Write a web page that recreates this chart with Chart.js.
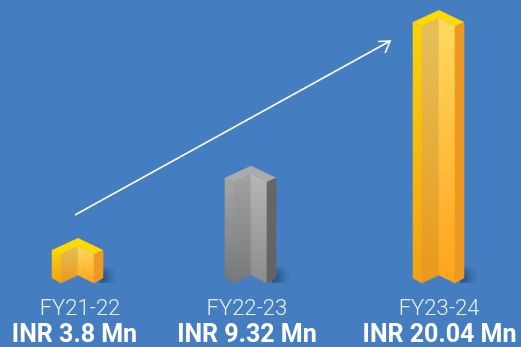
<!DOCTYPE html>
<html>
<head>
<meta charset="utf-8">
<style>
  html, body { margin: 0; padding: 0; background: #457ec0; }
  canvas { display: block; }
</style>
<script src="https://cdn.jsdelivr.net/npm/chart.js@4"></script>
</head>
<body>
<canvas id="revenue" width="521" height="347"></canvas>
<script>
const periods = ['FY21-22', 'FY22-23', 'FY23-24'];
const amounts = ['3.8', '9.32', '20.04'];
// bar levels as drawn in the picture, the artwork is not quite to scale
const drawnLevels = [3.3, 8.6, 20.04];
const slots = [0, 0.958, 2];
const arrowX = [-0.017, 1.729];
const arrowY = [4.99, 17.76];

const gold = {
  cap: '#ffd900',
  left: ['#fbd208', '#f3a014'],
  innerLeft: ['#e4c05a', '#ea981c'],
  innerRight: ['#ffd960', '#ffa41c'],
  right: ['#ee9a22', '#ee9a22']
};
const grey = {
  cap: '#ababad',
  left: ['#a6a6a6', '#747678'],
  innerLeft: ['#a2a2a2', '#76787a'],
  innerRight: ['#b6b6b8', '#8c8c8e'],
  right: ['#666666', '#636363']
};
const palettes = [gold, grey, gold];

function face(ctx, pts, colors) {
  const ys = pts.map(p => p[1]);
  const grad = ctx.createLinearGradient(0, Math.min(...ys), 0, Math.max(...ys));
  grad.addColorStop(0, colors[0]);
  grad.addColorStop(1, colors[1]);
  ctx.fillStyle = grad;
  ctx.strokeStyle = grad; // hides the hairline seams between faces
  ctx.lineWidth = 0.6;
  ctx.beginPath();
  pts.forEach((p, i) => i ? ctx.lineTo(p[0], p[1]) : ctx.moveTo(p[0], p[1]));
  ctx.closePath();
  ctx.fill();
  ctx.stroke();
}

// Turns each plain bar into the folded 3D column
const columns = {
  id: 'columns',
  afterDatasetsDraw(chart) {
    const ctx = chart.ctx;
    chart.getDatasetMeta(0).data.forEach((bar, i) => {
      const props = bar.getProps(['x', 'y', 'base', 'width'], true);
      const x = Math.round(props.x), y = props.y, base = props.base;
      const c = palettes[i];
      const l = x - Math.round(props.width / 2), r = l + props.width;
      const il = l + 9, ir = r - 9;

      const shadow = ctx.createRadialGradient(r - 2, base - 6, 1, r - 2, base - 6, 17);
      shadow.addColorStop(0, 'rgba(30,60,105,0.8)');
      shadow.addColorStop(1, 'rgba(50,100,165,0)');
      ctx.fillStyle = shadow;
      ctx.fillRect(r - 4, base - 16, 21, 16);

      face(ctx, [[l, y + 12], [il, y + 16], [il, base], [l, base - 5]], c.left);
      face(ctx, [[il, y + 16], [x, y + 8], [x, base - 8], [il, base]], c.innerLeft);
      face(ctx, [[x, y + 8], [ir, y + 16], [ir, base], [x, base - 8]], c.innerRight);
      face(ctx, [[ir, y + 16], [r, y + 12], [r, base - 5], [ir, base]], c.right);
      ctx.fillStyle = c.cap;
      ctx.beginPath();
      ctx.moveTo(x, y);
      ctx.lineTo(r, y + 12);
      ctx.lineTo(ir, y + 16);
      ctx.lineTo(x, y + 8);
      ctx.lineTo(il, y + 16);
      ctx.lineTo(l, y + 12);
      ctx.closePath();
      ctx.fill();
    });
  }
};

const growthArrow = {
  id: 'growthArrow',
  afterDraw(chart) {
    const ctx = chart.ctx;
    const x0 = chart.scales.x.getPixelForValue(arrowX[0]);
    const x1 = chart.scales.x.getPixelForValue(arrowX[1]);
    const y0 = chart.scales.y.getPixelForValue(arrowY[0]);
    const y1 = chart.scales.y.getPixelForValue(arrowY[1]);
    ctx.save();
    ctx.strokeStyle = '#ffffff';
    ctx.lineWidth = 1.6;
    ctx.beginPath();
    ctx.moveTo(x0, y0);
    ctx.lineTo(x1, y1);
    ctx.moveTo(x1 - 12, y1 + 0.5);
    ctx.lineTo(x1, y1);
    ctx.lineTo(x1 - 5, y1 + 12);
    ctx.stroke();
    ctx.restore();
  }
};

const footer = {
  id: 'footer',
  afterDraw(chart) {
    const ctx = chart.ctx;
    const periodShift = [2, -4, 0];
    const amountShift = [-3.5, -4, 0.5];
    ctx.save();
    ctx.textAlign = 'center';
    ctx.textBaseline = 'alphabetic';
    periods.forEach((p, i) => {
      const cx = chart.scales.x.getPixelForValue(slots[i]);
      ctx.fillStyle = '#e6eef8';
      ctx.font = '300 22px Roboto';
      ctx.fillText(p, cx + periodShift[i], 315);
      ctx.fillStyle = '#ffffff';
      ctx.font = 'bold 25px Roboto';
      ctx.fillText('INR ' + amounts[i] + ' Mn', cx + amountShift[i], 342);
    });
    ctx.restore();
  }
};

document.addEventListener('DOMContentLoaded', () => {
  const ctx = document.getElementById('revenue').getContext('2d');
  new Chart(ctx, {
    type: 'bar',
    data: {
      datasets: [{
        data: slots.map((s, i) => ({ x: s, y: drawnLevels[i] })),
        backgroundColor: 'rgba(0,0,0,0)',
        barThickness: 51
      }]
    },
    options: {
      responsive: false,
      animation: false,
      layout: { padding: { bottom: 64 } },
      plugins: {
        legend: { display: false },
        tooltip: { enabled: false }
      },
      scales: {
        x: { type: 'linear', display: false, offset: false, min: -0.432, max: 2.454 },
        y: { display: false, min: 0, max: 20.77 }
      }
    },
    plugins: [columns, growthArrow, footer]
  });
});
</script>
</body>
</html>
